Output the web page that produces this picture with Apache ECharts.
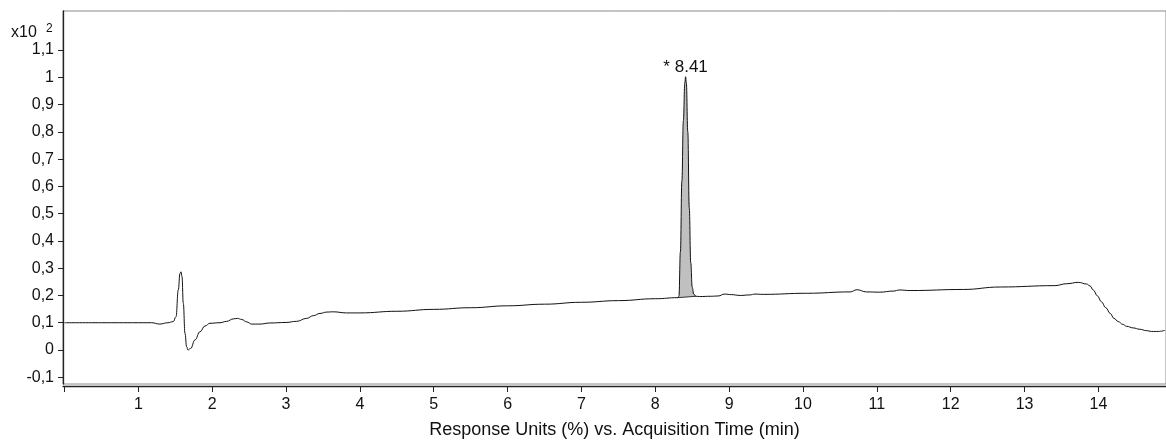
<!DOCTYPE html>
<html>
<head>
<meta charset="utf-8">
<script src="https://cdn.jsdelivr.net/npm/echarts@6/dist/echarts.min.js"></script>
<style>
html,body{margin:0;padding:0;background:#fff;}
#chart{width:1166px;height:440px;}
</style>
</head>
<body>
<div id="chart"></div>
<script>
// Acquisition time (min)
const timeMin = [
  0, 0.5, 1.0, 1.18, 1.29, 1.40, 1.473, 1.51, 1.541, 1.564, 1.578, 1.591, 1.609, 1.632, 1.654, 1.672,
  1.709, 1.767, 1.835, 1.902, 1.970, 2.106, 2.196, 2.286, 2.34, 2.40, 2.467, 2.535, 2.647, 2.78, 3.0,
  3.14, 3.28, 3.37, 3.46, 3.55, 3.64, 3.82,
  4.0, 4.5, 5.0, 5.5, 6.0, 6.5, 7.0, 7.5, 8.0, 8.31,
  8.32, 8.34, 8.36, 8.38, 8.40, 8.41, 8.42, 8.44, 8.46, 8.48, 8.50, 8.52, 8.55,
  8.6, 8.75, 8.85, 8.94, 9.03, 9.15, 9.28, 9.35, 9.46, 10.05, 10.64, 10.73, 10.86,
  11.04, 11.22, 11.31, 11.45, 12.17, 12.67, 13.41, 13.57, 13.73, 13.84, 13.886, 13.93, 13.985,
  14.04, 14.10, 14.16, 14.21, 14.27, 14.33, 14.38, 14.47, 14.56, 14.65, 14.72, 14.81, 14.90
];
// Response (x10^2 %)
const response = [
  0.100, 0.100, 0.100, 0.100, 0.095, 0.100, 0.104, 0.122, 0.220, 0.281, 0.287, 0.269, 0.171, 0.061, 0.012, 0.000,
  0.006, 0.037, 0.067, 0.088, 0.098, 0.100, 0.105, 0.114, 0.116, 0.112, 0.103, 0.095, 0.095, 0.099, 0.101,
  0.105, 0.116, 0.126, 0.134, 0.139, 0.140, 0.136,
  0.136, 0.142, 0.149, 0.155, 0.162, 0.168, 0.175, 0.181, 0.188, 0.192,
  0.198, 0.360, 0.620, 0.840, 0.980, 1.002, 0.980, 0.800, 0.520, 0.320, 0.230, 0.205, 0.197,
  0.196, 0.197, 0.198, 0.205, 0.203, 0.200, 0.202, 0.205, 0.204, 0.208, 0.213, 0.221, 0.213,
  0.212, 0.216, 0.220, 0.218, 0.222, 0.231, 0.236, 0.243, 0.248, 0.242, 0.235, 0.220, 0.199,
  0.177, 0.155, 0.134, 0.116, 0.104, 0.094, 0.087, 0.081, 0.076, 0.071, 0.068, 0.068, 0.072
];
// Integrated peak
const peakStart = 8.31, peakEnd = 8.55, peakApex = 8.41;
const peakLabel = '* 8.41';
// Tick labels
const xTicks = [0,1,2,3,4,5,6,7,8,9,10,11,12,13,14];
const yTicks = [-0.1,0,0.1,0.2,0.3,0.4,0.5,0.6,0.7,0.8,0.9,1.0,1.1];
const xTitle = 'Response Units (%) vs. Acquisition Time (min)';
const yScaleText = 'x10', yScaleExp = '2';

const FONT = '"Liberation Sans", Arial, sans-serif';
const lineData = timeMin.map((t, i) => [t, response[i]]);
const peakPts = lineData.filter(p => p[0] >= peakStart && p[0] <= peakEnd);
const apexIdx = timeMin.indexOf(peakApex);

const chart = echarts.init(document.getElementById('chart'), null, {renderer: 'canvas'});
chart.setOption({
  animation: false,
  backgroundColor: '#fff',
  textStyle: {fontFamily: FONT},
  grid: {left: 63, right: 0, top: 11, bottom: 56, containLabel: false, outerBoundsMode: 'none',
    show: true, borderColor: '#8a8a8a', borderWidth: 1, backgroundColor: 'transparent'},
  xAxis: {
    type: 'value', min: -0.02, max: 14.915, offset: 2,
    axisLine: {show: true, onZero: false, lineStyle: {color: '#222', width: 1.3}},
    axisTick: {show: true, length: 6, lineStyle: {color: '#222'}, customValues: xTicks},
    axisLabel: {fontSize: 16, color: '#111', fontFamily: FONT, margin: 11, customValues: xTicks,
      formatter: v => (v === 0 ? '' : String(v))},
    splitLine: {show: false},
    name: xTitle, nameLocation: 'middle', nameGap: 35,
    nameTextStyle: {fontSize: 18, color: '#111', fontFamily: FONT}
  },
  yAxis: {
    type: 'value', min: -0.1247, max: 1.2431,
    axisLine: {show: true, onZero: false, lineStyle: {color: '#222', width: 1.3}},
    axisTick: {show: true, length: 5, lineStyle: {color: '#222'}, customValues: yTicks},
    axisLabel: {fontSize: 16, color: '#111', fontFamily: FONT, margin: 9, customValues: yTicks,
      formatter: v => String(Math.round(v * 10) / 10).replace('.', ',')},
    splitLine: {show: false}
  },
  graphic: [
    {type: 'text', left: 11, top: 25, style: {text: yScaleText, font: '16px ' + FONT, fill: '#111'}},
    {type: 'text', left: 46, top: 23, style: {text: yScaleExp, font: '12px ' + FONT, fill: '#111'}}
  ],
  series: [
    {
      type: 'custom',
      coordinateSystem: 'cartesian2d',
      data: [[peakApex, response[apexIdx]]],
      silent: true,
      z: 1,
      renderItem: function (params, api) {
        const pts = peakPts.map(p => api.coord(p));
        const a = pts[0], b = pts[pts.length - 1];
        return {
          type: 'group',
          children: [
            {type: 'polygon', shape: {points: pts}, style: {fill: '#c0c0c0', stroke: null}},
            {type: 'line', shape: {x1: a[0], y1: a[1], x2: b[0], y2: b[1]}, style: {stroke: '#333', lineWidth: 1}}
          ]
        };
      }
    },
    {
      type: 'line',
      data: lineData,
      showSymbol: false,
      symbol: 'none',
      smooth: 0.45,
      smoothMonotone: 'x',
      z: 2,
      lineStyle: {color: '#111', width: 1},
      markPoint: {
        symbol: 'circle', symbolSize: 0,
        data: [{coord: [peakApex, response[apexIdx]], value: peakLabel}],
        label: {show: true, position: 'top', distance: 1, formatter: peakLabel, fontSize: 17, color: '#111', fontFamily: FONT}
      }
    }
  ]
});
</script>
</body>
</html>
